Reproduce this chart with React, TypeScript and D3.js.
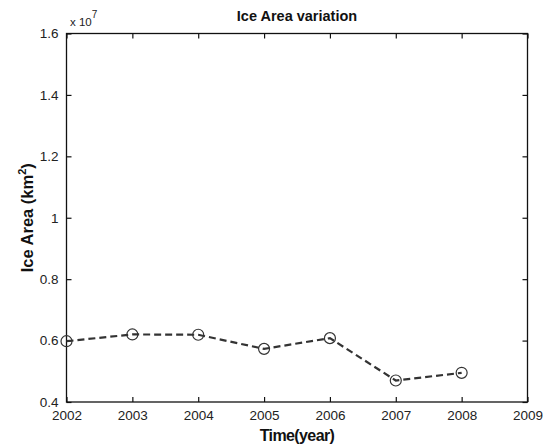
import React, { useEffect, useRef } from 'react';
import * as d3 from 'd3';

// readings, area in units of 1e7 km^2
const years = [2002, 2003, 2004, 2005, 2006, 2007, 2008];
const iceArea = [0.598, 0.62, 0.619, 0.573, 0.608, 0.47, 0.495];
const xTicks = [2002, 2003, 2004, 2005, 2006, 2007, 2008, 2009];
const yTicks = [0.4, 0.6, 0.8, 1, 1.2, 1.4, 1.6];

export default function App() {
    const ref = useRef<SVGSVGElement>(null);

    useEffect(() => {
        if (!ref.current) return;
        document.body.style.margin = '0';
        document.body.style.overflow = 'hidden';
        const svg = d3.select(ref.current);
        svg.selectAll('*').remove();

        const left = 66.5, right = 527.5, top = 33.5, bottom = 402;
        const font = 'Arial, Liberation Sans, Helvetica, sans-serif';

        const x = d3.scaleLinear().domain([2002, 2009]).range([left, right]);
        const y = d3.scaleLinear().domain([0.4, 1.6]).range([bottom, top]);

        svg.append('rect').attr('width', 549).attr('height', 446).attr('fill', '#fff');

        // frame
        svg.append('rect')
            .attr('x', left).attr('y', top)
            .attr('width', right - left).attr('height', bottom - top)
            .attr('fill', 'none').attr('stroke', '#111').attr('stroke-width', 1.3);

        const tickLen = 5;
        const axisB = d3.axisBottom(x).tickValues(xTicks).tickFormat(d3.format('d')).tickSizeInner(-tickLen).tickSizeOuter(0).tickPadding(8);
        const axisT = d3.axisTop(x).tickValues(xTicks).tickFormat(() => '').tickSizeInner(-tickLen).tickSizeOuter(0);
        const axisL = d3.axisLeft(y).tickValues(yTicks).tickFormat((d: any) => (d === 1 ? '1' : d3.format('.1f')(d))).tickSizeInner(-tickLen).tickSizeOuter(0).tickPadding(8);
        const axisR = d3.axisRight(y).tickValues(yTicks).tickFormat(() => '').tickSizeInner(-tickLen).tickSizeOuter(0);

        const g1 = svg.append('g').attr('transform', `translate(0,${bottom})`).call(axisB);
        const g2 = svg.append('g').attr('transform', `translate(0,${top})`).call(axisT);
        const g3 = svg.append('g').attr('transform', `translate(${left},0)`).call(axisL);
        const g4 = svg.append('g').attr('transform', `translate(${right},0)`).call(axisR);
        [g1, g2, g3, g4].forEach(g => {
            g.select('.domain').remove();
            g.selectAll('line').attr('stroke', '#111').attr('stroke-width', 1.2);
            g.selectAll('text').attr('fill', '#222').style('font-family', font).style('font-size', '13.5px');
        });
        g1.selectAll('text').attr('dy', '0.71em');

        // exponent
        const ex = svg.append('text').attr('x', 70).attr('y', 26)
            .style('font-family', font).style('font-size', '11.5px').attr('fill', '#222');
        ex.append('tspan').text('x 10');
        ex.append('tspan').attr('dy', -8).attr('font-size', '10px').text('7');

        // line
        const pts = years.map((yr, i) => [x(yr), y(iceArea[i])] as [number, number]);
        svg.append('path')
            .attr('d', d3.line()(pts))
            .attr('fill', 'none').attr('stroke', '#333')
            .attr('stroke-width', 2.2).attr('stroke-dasharray', '7,4');

        svg.append('g').selectAll('circle').data(pts).enter().append('circle')
            .attr('cx', d => d[0]).attr('cy', d => d[1]).attr('r', 5.5)
            .attr('fill', 'none').attr('stroke', '#333').attr('stroke-width', 1.2);

        // titles
        svg.append('text').attr('x', 297).attr('y', 21).attr('text-anchor', 'middle')
            .style('font-family', font).style('font-size', '14.5px').style('font-weight', 'bold')
            .attr('fill', '#111').text('Ice Area variation');

        svg.append('text').attr('x', 297).attr('y', 441).attr('text-anchor', 'middle')
            .style('font-family', font).style('font-size', '16px').style('font-weight', 'bold')
            .attr('fill', '#111').attr('letter-spacing', '-0.6').text('Time(year)');

        const yl = svg.append('text').attr('transform', `translate(33,${(top + bottom) / 2}) rotate(-90)`)
            .attr('text-anchor', 'middle')
            .style('font-family', font).style('font-size', '16.5px').style('font-weight', 'bold')
            .attr('fill', '#111');
        yl.append('tspan').text('Ice Area (km');
        yl.append('tspan').attr('dy', -7).attr('font-size', '11px').text('2');
        yl.append('tspan').attr('dy', 7).text(')');
    }, []);

    return (
        <svg ref={ref} width={549} height={446}
            style={{ display: 'block', position: 'absolute', left: 0, top: 0 }} />
    );
}
